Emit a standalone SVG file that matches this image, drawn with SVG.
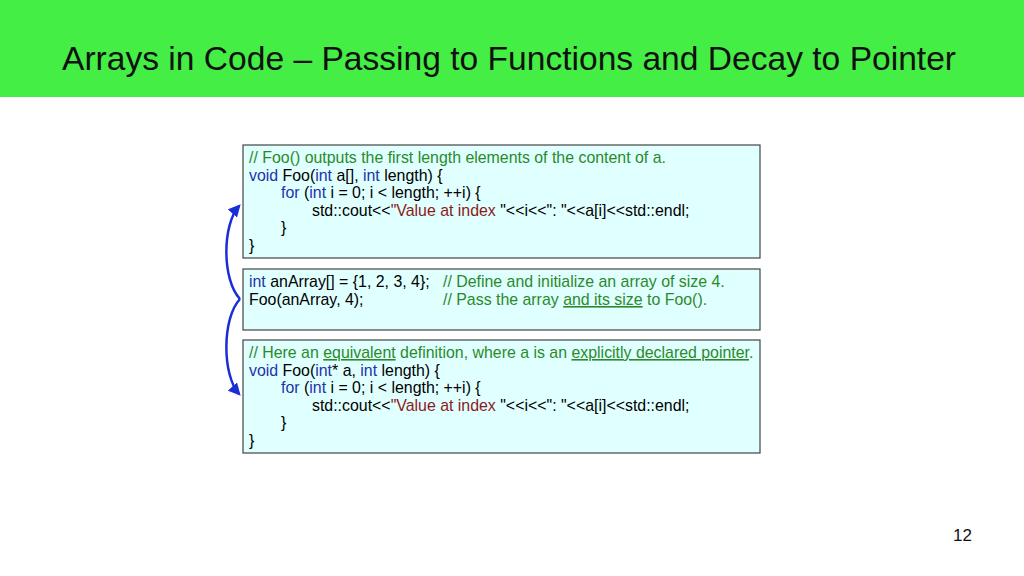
<svg xmlns="http://www.w3.org/2000/svg" width="1024" height="576" viewBox="0 0 1024 576">
<style>
text{font-family:"Liberation Sans",Arial,sans-serif}
.c{font-size:15.9px;fill:#000}
.k{fill:#2233aa}
.g{fill:#2a8a2a}
.s{fill:#8b1a1a}
.u{text-decoration:underline}
.box{fill:#e0ffff;stroke:#444;stroke-width:1.2}
.arr{fill:none;stroke:#1a2ed6;stroke-width:2.5;marker-end:url(#ah)}
</style>
<defs><marker id="ah" viewBox="0 0 10 10" refX="8" refY="5" markerWidth="5" markerHeight="5" orient="auto"><path d="M0,0L10,5L0,10z" fill="#1a2ed6"/></marker></defs>
<rect width="1024" height="576" fill="#fff"/>
<rect width="1024" height="97" fill="#44ee44"/>
<text x="62" y="70" font-size="33.6" fill="#111">Arrays in Code – Passing to Functions and Decay to Pointer</text>
<text x="972" y="541" font-size="17" text-anchor="end" fill="#111">12</text>
<g id="box1">
<rect class="box" x="243" y="145" width="517" height="113"/>
<text class="c" x="249" y="163"><tspan class="g">// Foo() outputs the first length elements of the content of a.</tspan></text>
<text class="c" x="249" y="181"><tspan class="k">void</tspan> Foo(<tspan class="k">int</tspan> a[], <tspan class="k">int</tspan> length) {</text>
<text class="c" x="281" y="198"><tspan class="k">for</tspan> (<tspan class="k">int</tspan> i = 0; i &lt; length; ++i) {</text>
<text class="c" x="312" y="216">std::cout&lt;&lt;<tspan class="s">"Value at index </tspan>"&lt;&lt;i&lt;&lt;": "&lt;&lt;a[i]&lt;&lt;std::endl;</text>
<text class="c" x="281" y="233">}</text>
<text class="c" x="249" y="251">}</text>
</g>
<g id="box2">
<rect class="box" x="243" y="269" width="517" height="61"/>
<text class="c" x="249" y="287"><tspan class="k">int</tspan> anArray[] = {1, 2, 3, 4};</text>
<text class="c" x="443" y="287"><tspan class="g">// Define and initialize an array of size 4.</tspan></text>
<text class="c" x="249" y="305">Foo(anArray, 4);</text>
<text class="c g" x="443" y="305">// Pass the array <tspan class="u">and its size</tspan> to Foo().</text>
</g>
<g id="box3">
<rect class="box" x="243" y="340" width="517" height="113"/>
<text class="c g" x="249" y="358">// Here an <tspan class="u">equivalent</tspan> definition, where a is an <tspan class="u">explicitly declared pointer</tspan>.</text>
<text class="c" x="249" y="376"><tspan class="k">void</tspan> Foo(<tspan class="k">int</tspan>* a, <tspan class="k">int</tspan> length) {</text>
<text class="c" x="281" y="393"><tspan class="k">for</tspan> (<tspan class="k">int</tspan> i = 0; i &lt; length; ++i) {</text>
<text class="c" x="312" y="411">std::cout&lt;&lt;<tspan class="s">"Value at index </tspan>"&lt;&lt;i&lt;&lt;": "&lt;&lt;a[i]&lt;&lt;std::endl;</text>
<text class="c" x="281" y="428">}</text>
<text class="c" x="249" y="446">}</text>
</g>
<g id="connectors">
<path class="arr" d="M240,299 C222,280 222,225 239,206"/>
<path class="arr" d="M240,299 C222,318 222,375 239,394"/>
</g>
</svg>
